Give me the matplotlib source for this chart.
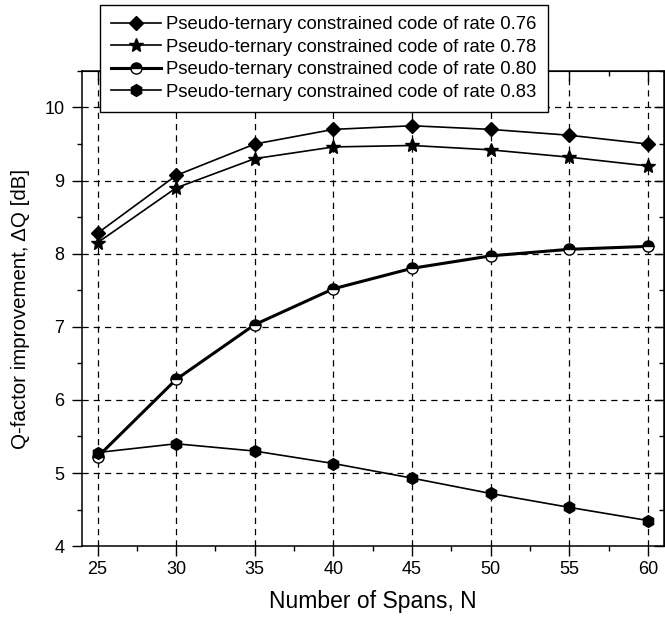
import matplotlib.pyplot as plt
from matplotlib.ticker import MultipleLocator

plt.rcParams['font.family'] = ['Liberation Sans', 'DejaVu Sans']

spans = [25, 30, 35, 40, 45, 50, 55, 60]
q_076 = [8.28, 9.07, 9.50, 9.70, 9.75, 9.70, 9.62, 9.50]
q_078 = [8.15, 8.90, 9.30, 9.46, 9.48, 9.42, 9.32, 9.20]
q_080 = [5.22, 6.28, 7.03, 7.52, 7.80, 7.97, 8.06, 8.10]
q_083 = [5.28, 5.40, 5.30, 5.13, 4.93, 4.72, 4.53, 4.35]
labels = ['Pseudo-ternary constrained code of rate 0.76',
          'Pseudo-ternary constrained code of rate 0.78',
          'Pseudo-ternary constrained code of rate 0.80',
          'Pseudo-ternary constrained code of rate 0.83']

fig = plt.figure(figsize=(6.65, 6.22), dpi=100)
ax = fig.add_axes([0.123, 0.122, 0.875, 0.764])

ax.plot(spans, q_076, color='black', lw=1.2, marker='D', ms=7, label=labels[0])
ax.plot(spans, q_078, color='black', lw=1.2, marker='*', ms=10, label=labels[1])
ax.plot(spans, q_080, color='black', lw=2.2, marker='o', ms=8, fillstyle='top',
        markerfacecolor='black', markerfacecoloralt='white', markeredgewidth=1.0,
        label=labels[2])
ax.plot(spans, q_083, color='black', lw=1.2, marker='h', ms=8.5, label=labels[3])

ax.set_xlim(24, 61)
ax.set_ylim(4, 10.5)
ax.xaxis.set_major_locator(MultipleLocator(5))
ax.xaxis.set_minor_locator(MultipleLocator(2.5))
ax.yaxis.set_major_locator(MultipleLocator(1))
ax.yaxis.set_minor_locator(MultipleLocator(0.5))
ax.tick_params(which='major', direction='out', length=7, width=1, labelsize=13)
ax.tick_params(axis='y', which='major', pad=5.5)
ax.tick_params(which='minor', direction='out', length=3.5, width=1)
ax.grid(True, which='major', color='black', ls=(0, (5, 4)), lw=0.9)

for side, loc in (('top', 'x'), ('right', 'y')):
    if loc == 'x':
        sec = ax.secondary_xaxis('top')
        sec.xaxis.set_major_locator(MultipleLocator(5))
        sec.xaxis.set_minor_locator(MultipleLocator(2.5))
    else:
        sec = ax.secondary_yaxis('right')
        sec.yaxis.set_major_locator(MultipleLocator(1))
        sec.yaxis.set_minor_locator(MultipleLocator(0.5))
    sec.tick_params(which='major', direction='in', length=7, width=1,
                    labelleft=False, labelright=False, labeltop=False, labelbottom=False)
    sec.tick_params(which='minor', direction='in', length=3.5, width=1)

for s in ax.spines.values():
    s.set_linewidth(1.1)

ax.set_xlabel('Number of Spans, N', fontsize=16.5, labelpad=9)
ax.set_ylabel('Q-factor improvement, ΔQ [dB]', fontsize=14.8, labelpad=10)

leg = fig.legend(loc='upper left', bbox_to_anchor=(100 / 665, 1 - 5 / 622),
                 borderaxespad=0, fontsize=13.3, frameon=True, fancybox=False,
                 framealpha=1, edgecolor='black', handlelength=2.7,
                 labelspacing=0.3, borderpad=0.6, handletextpad=0.3)
leg.get_frame().set_linewidth(1.0)

fig.savefig('out.png', dpi=100)
